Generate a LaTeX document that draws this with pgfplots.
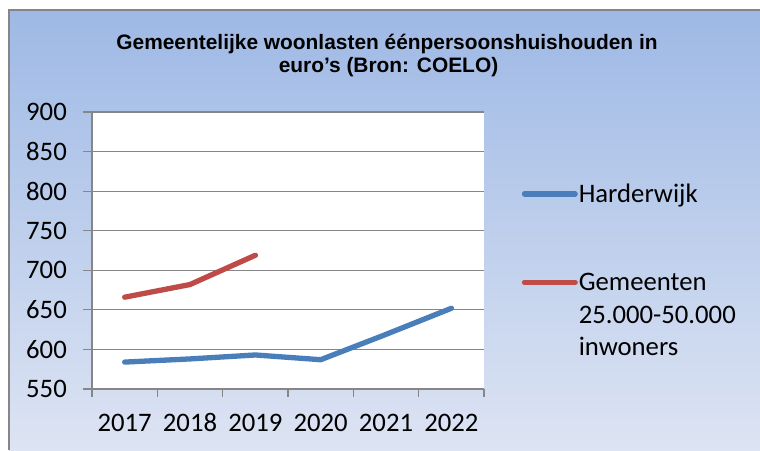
\documentclass[border=0pt]{standalone}
\usepackage{fontspec}
\setmainfont{Carlito}
\newfontfamily\titlefont{Liberation Sans}
\usepackage{pgfplots}
\pgfplotsset{compat=1.18}
\definecolor{hwblue}{RGB}{74,126,187}
\definecolor{gmred}{RGB}{190,75,72}
\definecolor{gridgray}{RGB}{134,134,134}
\definecolor{bgtop}{RGB}{158,185,229}
\definecolor{bgbot}{RGB}{221,228,243}
\begin{document}
\begin{tikzpicture}[x=1pt,y=1pt]
\path[use as bounding box] (0,0) rectangle (760,450);
\shade[top color=bgtop, bottom color=bgbot] (9,0) rectangle (760,440);
\draw[gridgray, line width=1.5pt] (9,0) -- (9,440) -- (760,440);
\node[anchor=base, inner sep=0pt, font=\titlefont\bfseries\fontsize{20.9}{24}\selectfont] at (387,400.7) {Gemeentelijke woonlasten éénpersoonshuishouden in};
\node[anchor=base, inner sep=0pt, font=\titlefont\bfseries\fontsize{20.9}{24}\selectfont] at (388.5,377.3) {euro’s (Bron: COELO)};
\begin{axis}[
  at={(92pt,61pt)}, anchor=south west,
  scale only axis, width=392pt, height=277pt,
  xmin=-0.5, xmax=5.5, ymin=550, ymax=900,
  xtick={0,...,5}, xticklabels={2017,2018,2019,2020,2021,2022},
  minor xtick={-0.5,0.5,...,5.5},
  ytick={550,600,...,900},
  axis lines*=left,
  tick align=outside,
  major tick length=9pt, minor tick length=8pt,
  major x tick style={draw=none},
  tick style={gridgray, line width=1.2pt},
  axis line style={gridgray, line width=1.2pt},
  ymajorgrids, grid style={gridgray, line width=1.2pt},
  axis background/.style={fill=white},
  /pgf/number format/assume math mode=true,
  tick label style={font=\fontsize{26.7}{30}\selectfont, inner sep=0pt},
  yticklabel style={anchor=east, xshift=-16pt},
  xticklabel style={anchor=base, yshift=-33pt},
  legend image code/.code={\draw[#1, line cap=round] (0pt,8.3pt) -- (50.7pt,8.3pt);},
  legend style={at={(1.096,0.742)}, anchor=north west, draw=none, fill=none, inner sep=0pt,
    row sep=69.6pt, column sep=1pt, font=\fontsize{26.7}{32.5}\selectfont,
    nodes={anchor=base west, inner sep=0pt}},
  legend cell align=left,
]
\addplot[hwblue, line width=5.3pt, line cap=round, line join=round] coordinates {(0,584) (1,588) (2,593) (3,587) (4,619) (5,652)};
\addplot[gmred, line width=5.3pt, line cap=round, line join=round] coordinates {(0,666) (1,682) (2,719)};
\legend{Harderwijk, {\vtop{\hbox{Gemeenten}\hbox{25.000-50.000}\hbox{inwoners}}}}
\end{axis}
\end{tikzpicture}
\end{document}
